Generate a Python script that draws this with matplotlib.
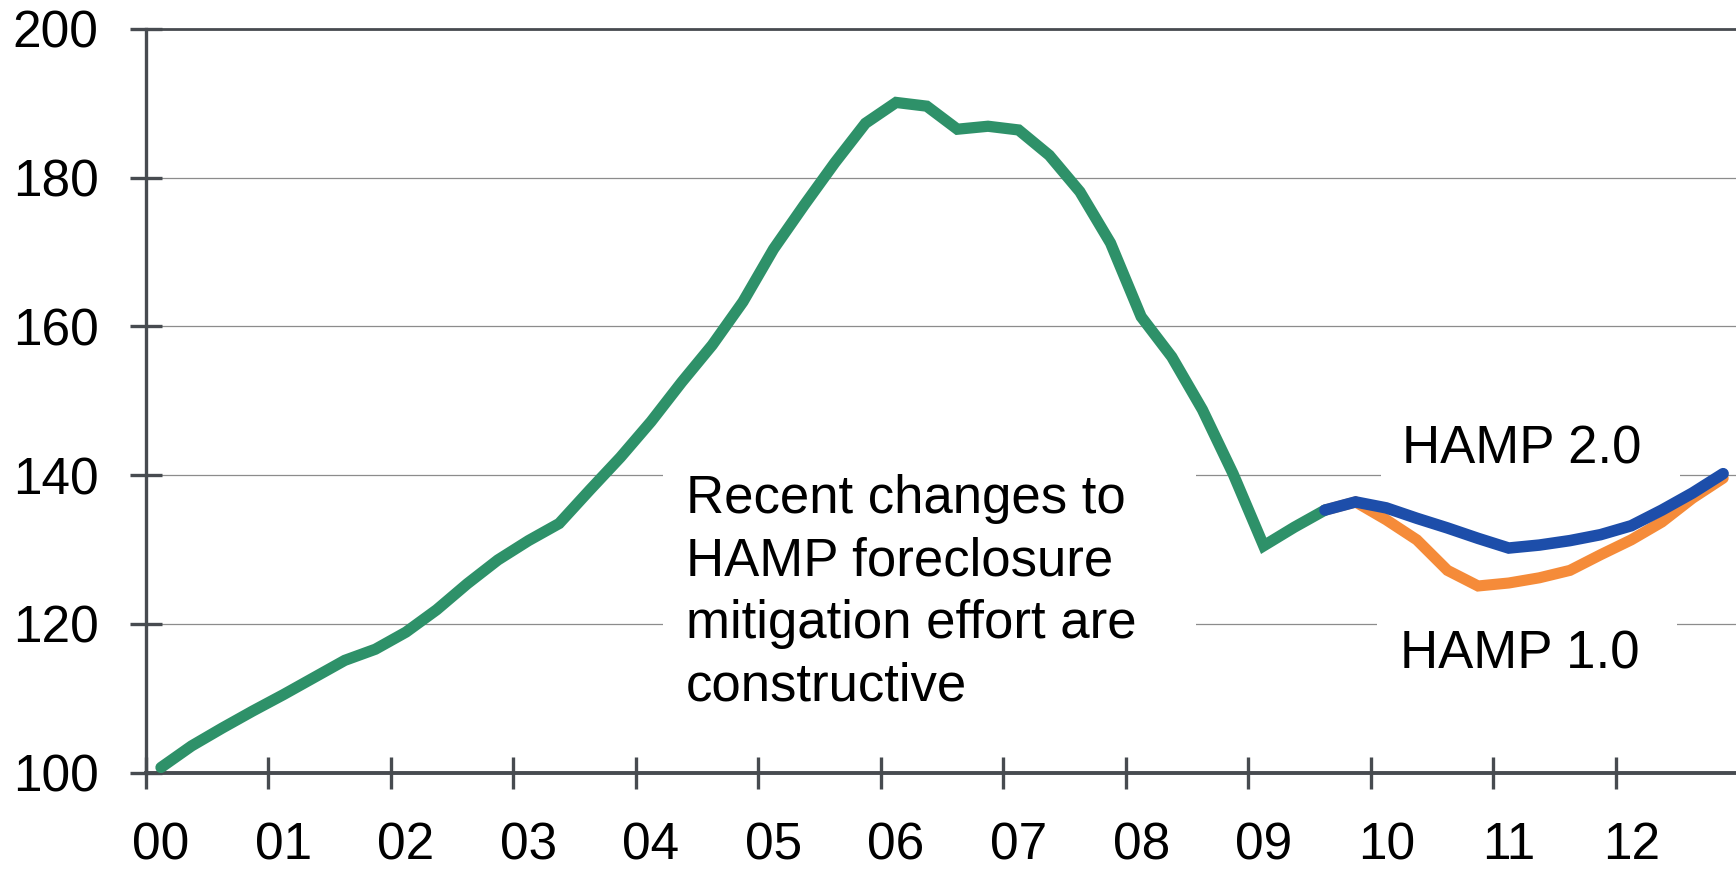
import matplotlib
matplotlib.use("Agg")
import matplotlib.pyplot as plt
from matplotlib.patches import Rectangle
from matplotlib.ticker import FixedLocator, NullFormatter

plt.rcParams['font.family'] = ['Liberation Sans', 'DejaVu Sans']

# ---- data (quarterly index, 2000Q1 ...) ----
year_labels = ["00", "01", "02", "03", "04", "05", "06", "07", "08", "09", "10", "11", "12"]

hist_values = [100.7, 103.6, 106.0, 108.3, 110.5, 112.8, 115.1, 116.6,
               118.9, 121.9, 125.4, 128.6, 131.2, 133.5, 138.0, 142.4,
               147.2, 152.5, 157.5, 163.3, 170.4, 176.3, 182.0, 187.3,
               190.1, 189.6, 186.5, 186.9, 186.4, 183.0, 178.1, 171.2,
               161.3, 155.9, 148.8, 140.2, 130.5, 133.0, 135.3]

hamp2_values = [135.3, 136.4, 135.6, 134.2, 132.9, 131.5, 130.2, 130.6,
                131.2, 132.0, 133.2, 135.3, 137.6, 140.2]

hamp1_values = [135.3, 136.4, 134.0, 131.3, 127.2, 125.1, 125.5, 126.2,
                127.2, 129.3, 131.3, 133.7, 136.9, 139.6]

y_ticks = [100, 120, 140, 160, 180, 200]

annotation = "Recent changes to\nHAMP foreclosure\nmitigation effort are\nconstructive"
label_hamp2 = "HAMP 2.0"
label_hamp1 = "HAMP 1.0"

# quarter positions (centre of each quarter, in years)
hist_x = [(i + 0.5) / 4 for i in range(len(hist_values))]
start = len(hist_values) - 1
proj_x = [(start + i + 0.5) / 4 for i in range(len(hamp2_values))]

GREEN = "#2e9169"
BLUE = "#1d4eaa"
ORANGE = "#f58b39"
AXIS = "#474b50"

fig = plt.figure(figsize=(17.36, 8.74), dpi=100)
ax = fig.add_axes([0.0839, 0.11590, 1 - 0.0839, 0.96705 - 0.11590])

ax.set_xlim(0, 12.98)
ax.set_ylim(100, 200)

# gridlines
ax.set_axisbelow(True)
ax.yaxis.grid(True, color="#8c8c8c", linewidth=0.9)
ax.xaxis.grid(False)

# white boxes behind text (break gridlines)
ax.add_patch(Rectangle((4.22, 116), 8.575 - 4.22, 27, facecolor="white",
                       edgecolor="none", zorder=1))
ax.add_patch(Rectangle((10.08, 138.5), 12.52 - 10.08, 10, facecolor="white",
                       edgecolor="none", zorder=1))
ax.add_patch(Rectangle((10.05, 113), 12.50 - 10.05, 9, facecolor="white",
                       edgecolor="none", zorder=1))

ax.plot(proj_x, hamp1_values, color=ORANGE, lw=8.0, solid_capstyle="round",
        solid_joinstyle="miter", zorder=3)
ax.plot(hist_x, hist_values, color=GREEN, lw=8.1, solid_capstyle="round",
        solid_joinstyle="miter", zorder=3)
ax.plot(proj_x, hamp2_values, color=BLUE, lw=8.3, solid_capstyle="round",
        solid_joinstyle="miter", zorder=4)

# spines
ax.spines["right"].set_visible(False)
ax.spines["left"].set_color(AXIS)
ax.spines["left"].set_linewidth(2.4)
ax.spines["bottom"].set_color(AXIS)
ax.spines["bottom"].set_linewidth(2.8)
ax.spines["top"].set_color(AXIS)
ax.spines["top"].set_linewidth(2.0)

# y ticks
ax.set_yticks(y_ticks)
ax.set_yticklabels([str(v) for v in y_ticks])
ax.tick_params(axis="y", direction="inout", length=23, width=2.4, color=AXIS,
               labelsize=37, pad=22.5, labelcolor="black")

# x ticks: major at year boundaries (marks), minor at first quarter (labels)
ax.xaxis.set_major_locator(FixedLocator(list(range(0, 13))))
ax.xaxis.set_major_formatter(NullFormatter())
ax.xaxis.set_minor_locator(FixedLocator([i + 0.125 for i in range(len(year_labels))]))
ax.set_xticklabels(year_labels, minor=True)
ax.tick_params(axis="x", which="major", direction="inout", length=23, width=2.4,
               color=AXIS)
ax.tick_params(axis="x", which="minor", length=0, labelsize=37, pad=35,
               labelcolor="black")

# annotations (multi-line text: baseline refers to the last line)
ax.text(4.408, 109.77, annotation, fontsize=38, ha="left", va="baseline",
        linespacing=1.32, zorder=5)
ax.text(10.252, 141.6, label_hamp2, fontsize=38, ha="left", va="baseline", zorder=5)
ax.text(10.238, 114.0, label_hamp1, fontsize=38, ha="left", va="baseline", zorder=5)

fig.savefig("out.png", dpi=100)
